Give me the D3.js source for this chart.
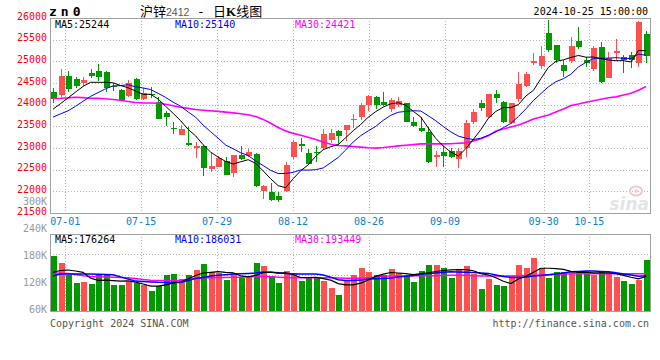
<!DOCTYPE html>
<html><head><meta charset="utf-8">
<script src="https://cdn.jsdelivr.net/npm/d3@7"></script>
<style>body{margin:0;background:#fff}svg{display:block}</style>
</head><body><svg id="c" width="660" height="360"></svg>
<script>
const dates = ["06-27","06-28",
"07-01","07-02","07-03","07-04","07-05","07-08","07-09","07-10","07-11","07-12","07-15","07-16","07-17","07-18","07-19","07-22","07-23","07-24","07-25","07-26","07-29","07-30","07-31",
"08-01","08-02","08-05","08-06","08-07","08-08","08-09","08-12","08-13","08-14","08-15","08-16","08-19","08-20","08-21","08-22","08-23","08-26","08-27","08-28","08-29","08-30",
"09-02","09-03","09-04","09-05","09-06","09-09","09-10","09-11","09-12","09-13","09-18","09-19","09-20","09-23","09-24","09-25","09-26","09-27","09-30",
"10-08","10-09","10-10","10-11","10-14","10-15","10-16","10-17","10-18","10-21","10-22","10-23","10-24","10-25"];

const open = [24299,24212,24669,24599,24500,24731,24784,24761,24442,24338,
24207,24599,24131,24253,24055,23815,23462,23307,23115,22993,
23046,22523,22569,22700,22430,22838,22822,22862,22008,21977,
21892,22008,22800,23092,22877,22915,22993,23185,23392,23415,
23639,23722,23992,24170,24069,23893,23985,24031,23600,23469,
23362,22800,22908,22938,22739,22993,23607,24031,23708,24246,
24069,23569,24131,24438,24969,24892,25647,25377,24915,25000,
25469,25031,24823,25338,24615,25200,25107,25146,24969,25631];
const high = [24392,24823,24784,24639,24639,24830,24932,24770,24500,24354,
24569,24615,24385,24408,24170,23861,23600,23523,23492,23146,
23062,22877,22815,22800,22845,23046,22977,22877,22140,22185,
21992,22685,23185,23223,22969,23046,23439,23431,23415,23540,
23778,24031,24223,24200,24300,24147,24170,24046,23723,23723,
23492,22931,23046,22993,22993,23646,23893,24108,24255,24338,
24085,24046,24761,24761,25185,25354,25954,25385,25031,25569,
25800,25108,25354,25454,25215,25515,25146,25223,25931,25700];
const low = [24027,24177,24281,24385,24431,24622,24546,24300,24315,24092,
24184,24108,24108,24154,23669,23515,23323,23300,23046,22762,
22354,22454,22554,22370,22323,22723,22792,22108,21830,21784,
21761,21992,22739,22915,22624,22685,22954,23122,23069,23169,
23455,23646,23861,23893,23969,23838,23939,23600,23492,23376,
22646,22569,22569,22780,22546,22800,23554,23861,23700,24031,
23569,23554,24069,24401,24915,24816,25222,24954,24646,24969,
25277,24877,24777,24493,24608,25031,24738,24839,24876,24954];
const close = [24124,24662,24362,24424,24569,24669,24638,24378,24419,24108,
24507,24138,24262,24230,23676,23708,23439,23431,23077,23046,
22546,22585,22777,22377,22838,22746,22908,22123,22131,21800,
21800,22600,23146,23054,22631,22877,23323,23353,23277,23531,
23676,23992,24200,23992,23992,24108,24078,23607,23508,23399,
22670,22838,22815,22785,22931,23570,23831,23916,24246,24161,
23607,24031,24469,24708,25001,25123,25262,25031,24784,25354,
25338,24954,25319,24531,25077,25239,25031,25031,25919,25123];

const ma5 = [23895,24024,24156,24290,24421,24516,24516,24516,24505,24442,
24390,24315,24239,24239,24130,23965,23800,23630,23430,23280,
23075,22905,22790,22690,22631,22681,22730,22645,22471,22290,
22130,22085,22291,22476,22610,22810,22960,23030,23080,23240,
23400,23545,23710,23840,23945,24020,24045,23985,23845,23715,
23460,23220,23044,22905,22815,22985,23200,23425,23685,23845,
23935,23930,24002,24200,24330,24600,24860,25000,25035,25090,
25135,25095,25100,25065,25030,25015,25015,24985,25250,25244];
const ma10 = [23713,23787,23858,23962,24078,24191,24278,24366,24433,24440,
24460,24412,24385,24350,24262,24168,24058,23966,23832,23712,
23530,23375,23228,23068,22983,22890,22828,22700,22595,22484,
22411,22412,22438,22494,22489,22500,22540,22660,22784,22955,
23140,23285,23395,23500,23640,23755,23825,23845,23860,23853,
23743,23628,23494,23372,23275,23226,23196,23224,23296,23372,
23470,23568,23727,23902,24096,24256,24411,24531,24600,24704,
24871,24976,25067,25070,25075,25085,25068,25066,25165,25140];
const ma30 = [24142,24147,24156,24170,24163,24149,24145,24135,24121,24101,
24075,24050,24041,24038,24034,24008,23974,23939,23914,23888,
23872,23858,23845,23828,23810,23789,23766,23725,23660,23570,
23475,23395,23337,23295,23247,23194,23138,23088,23058,23050,
23035,23020,23005,22998,23011,23030,23048,23062,23078,23095,
23095,23095,23095,23099,23108,23118,23161,23215,23280,23390,
23440,23485,23530,23595,23670,23715,23760,23830,23900,23980,
24015,24055,24090,24125,24158,24180,24225,24265,24335,24421];

// volume, in K (as read against the volume axis labels)
const volume = [182.9,167.3,140,122.9,125.1,120.7,140,140,117.8,117.8,
123.8,121.6,117.8,104.4,115.6,140,142.2,131.1,140,151.8,
164.4,146.7,144.4,128.9,143.8,132.7,138.4,166.7,160,137.8,
122.2,148.9,144.4,126.7,134.9,134.9,127.3,112.2,95.6,127.3,
140,156.2,146.7,140,140,154,145.1,140,124.4,148.9,
162.2,162.2,155.6,134,154,160,142.9,108.9,131.8,117.8,
115.6,138.4,162.2,155.6,177.8,155.6,134,146.7,146.7,146.7,
146.7,144.4,139.3,148.9,146.7,136.2,127.3,120.7,129.6,173.3];
const vma5 = [146.0,150.0,151.1,148.9,146.0,133.0,128.0,128.5,127.5,126.5,
127.0,124.0,120.0,115.5,115.5,118.0,122.0,125.0,131.0,139.0,
144.5,146.0,147.5,146.0,145.0,138.0,136.0,139.0,145.0,146.5,
144.0,145.0,140.5,134.5,134.0,135.0,132.0,128.5,121.0,118.0,
118.0,122.0,129.0,137.0,142.0,145.5,144.5,143.0,141.0,143.0,
145.0,147.8,150.0,151.5,152.0,152.0,149.5,143.0,140.0,134.0,
126.0,121.0,131.0,137.0,146.0,155.0,155.0,154.0,152.5,148.0,
146.0,146.2,144.9,145.0,144.5,143.0,139.0,135.0,131.5,137.0];
const vma10 = [137.6,142,142,142,142,142,141.6,141.1,140.7,135.8,
130.9,126.4,125.6,124.7,123.8,123.6,123.6,123.6,127.6,132,
134.7,137.6,139.3,140.7,142,142.7,143.3,144.2,146.4,146.2,
144.9,143.6,142,142,142,142,140.2,135.3,129.6,127.6,
127.6,129.1,130.9,131.6,132.2,133.1,135.3,137.1,139.1,141.3,
143.1,144.4,146,147.1,146.4,146,145.3,144.4,143.6,140.2,
136.9,134.7,134.7,135.8,137.6,139.1,140.4,142,144.4,147.1,
148,148.9,149.1,148,147.1,144.9,142,139.8,137.1,138.2];
const vma30 = [144.8,144.1,143.2,141,138.1,136.8,136.1,135.7,135.2,134.6,
133.9,132.1,129.9,128.3,127.7,127.7,127.7,127.7,131,133,
133.9,134.1,134.3,134.6,134.8,135.2,136.1,136.8,137.2,136.1,
135.2,134.3,133.7,133.7,133.7,133.7,133.7,133.7,133.2,132.8,
132.6,132.8,133.7,134.8,137.5,138,138,138,138.2,138.4,
138.4,138.6,138.8,139.2,139.4,139.2,138.6,137.9,137.6,137.6,
137.8,138,138.3,138.7,139.2,140,140.8,141.6,142.2,142.5,
142.6,142.6,142.6,142.6,142.6,142.6,142.6,142.6,142.8,143];

const priceTicks = [21500,22000,22500,23000,23500,24000,24500,25000,25500,26000];
const volTicks = [60,120,180,240,300];
const dateLabels = ["07-01","07-15","07-29","08-12","08-26","09-09","09-30","10-15"];
const headerMain = [{t:"MA5:25244",c:"#000"},{t:"MA10:25140",c:"#0000ff"},{t:"MA30:24421",c:"#ff00ff"}];
const headerVol = [{t:"MA5:176264",c:"#000"},{t:"MA10:186031",c:"#0000ff"},{t:"MA30:193449",c:"#ff00ff"}];

const svg = d3.select("#c");
const L = 50, R = 650, T = 18, B = 213, VT = 234, VB = 311;
const MONO = "'DejaVu Sans Mono', 'Liberation Mono', monospace";
const RED = "#ff5050", GREEN = "#009900", GRID = "#b4b4b4", FRAME = "#a0a0a0";

const xC = d3.scalePoint().domain(dates).range([53, 646]);
const xG = d3.scalePoint().domain(dates).range([50, 650]);
const y = d3.scaleLinear().domain([21500, 26000]).range([B, T]);
const yv = d3.scaleLinear().domain([60, 240]).range([VB, 230]);

// grids
const grid = svg.append("g").attr("stroke", GRID).attr("stroke-dasharray", "1,2").attr("shape-rendering","crispEdges");
grid.selectAll("line.h").data(priceTicks.filter(v => v > 21500 && v < 26000)).join("line")
  .attr("x1", L).attr("x2", R).attr("y1", d => Math.round(y(d)) + 0.5).attr("y2", d => Math.round(y(d)) + 0.5);
grid.selectAll("line.v").data(dateLabels).join("line")
  .attr("x1", d => Math.round(xG(d)) + 0.5).attr("x2", d => Math.round(xG(d)) + 0.5).attr("y1", T).attr("y2", B);
const vh = (VB + 4.5 - VT) / 4;
grid.selectAll("line.vh").data([1, 2, 3]).join("line")
  .attr("x1", L).attr("x2", R).attr("y1", k => Math.round(VT + k * vh) + 0.5).attr("y2", k => Math.round(VT + k * vh) + 0.5);
grid.selectAll("line.vv").data(dateLabels).join("line")
  .attr("x1", d => Math.round(xG(d)) + 0.5).attr("x2", d => Math.round(xG(d)) + 0.5).attr("y1", VT).attr("y2", VB);

// sina watermark
const wm = svg.append("g");
wm.append("ellipse").attr("cx", 636).attr("cy", 191).attr("rx", 6).attr("ry", 4.5).attr("fill", "none").attr("stroke", "#f2c8c8").attr("stroke-width", 2);
wm.append("circle").attr("cx", 636).attr("cy", 191).attr("r", 1.8).attr("fill", "#f2c8c8");
wm.append("text").attr("x", 649).attr("y", 210).attr("text-anchor", "end")
  .attr("font-family", "'DejaVu Sans', sans-serif").attr("font-style", "italic").attr("font-weight", "bold")
  .attr("font-size", 17).attr("fill", "#e4e4e4").text("sina");

// frames
svg.append("rect").attr("x", L + 0.5).attr("y", T + 0.5).attr("width", R - L).attr("height", B - T)
  .attr("fill", "none").attr("stroke", FRAME).attr("shape-rendering","crispEdges");
svg.append("rect").attr("x", L + 0.5).attr("y", VT + 0.5).attr("width", R - L).attr("height", VB - VT)
  .attr("fill", "none").attr("stroke", FRAME).attr("shape-rendering","crispEdges");

const idx = d3.range(dates.length);
const col = i => close[i] > open[i] ? RED : GREEN;

// candles
const cg = svg.append("g").attr("shape-rendering", "crispEdges");
cg.selectAll("line").data(idx).join("line")
  .attr("x1", i => Math.round(xC(dates[i])) + 0.5).attr("x2", i => Math.round(xC(dates[i])) + 0.5)
  .attr("y1", i => y(high[i])).attr("y2", i => y(low[i])).attr("stroke", col);
cg.selectAll("rect").data(idx).join("rect")
  .attr("x", i => Math.round(xC(dates[i])) - 2.5).attr("width", 6)
  .attr("y", i => Math.min(y(open[i]), y(close[i])))
  .attr("height", i => Math.max(1, Math.abs(y(open[i]) - y(close[i]))))
  .attr("fill", col);

// volume bars
svg.append("g").attr("shape-rendering", "crispEdges").selectAll("rect").data(idx).join("rect")
  .attr("x", i => Math.round(xC(dates[i])) - 2.5).attr("width", 6)
  .attr("y", i => yv(volume[i])).attr("height", i => VB - yv(volume[i])).attr("fill", col);

// MA lines
function maLine(arr, sc, color, w) {
  svg.append("path").datum(idx)
    .attr("d", d3.line().x(i => xC(dates[i])).y(i => sc(arr[i])))
    .attr("fill", "none").attr("stroke", color).attr("stroke-width", w);
}
maLine(ma30, y, "#ff00ff", 1.6);
maLine(ma10, y, "#0000ff", 1);
maLine(ma5, y, "#000000", 1);
maLine(vma30, yv, "#ff00ff", 1.5);
maLine(vma10, yv, "#0000ff", 1.5);
maLine(vma5, yv, "#000000", 1.2);

// axis labels
const txt = svg.append("g").attr("font-family", MONO).attr("font-size", 10);
txt.selectAll("text.p").data(priceTicks).join("text")
  .attr("x", 47).attr("y", d => y(d) - 2).attr("dominant-baseline", "central")
  .attr("text-anchor", "end").attr("fill", "#ff0000").text(d => d);
txt.selectAll("text.v").data(volTicks).join("text")
  .attr("x", 47).attr("y", d => yv(d) - 1.5).attr("dominant-baseline", "central")
  .attr("text-anchor", "end").attr("fill", "#999").text(d => d + "K");
txt.selectAll("text.d").data(dateLabels).join("text")
  .attr("x", d => xG(d)).attr("y", 225).attr("text-anchor", "middle")
  .attr("fill", "#0a7fcf").text(d => d);

// headers
txt.selectAll("text.hm").data(headerMain).join("text")
  .attr("x", (d, i) => 55 + i * 120).attr("y", 27.5).attr("fill", d => d.c).text(d => d.t);
txt.selectAll("text.hv").data(headerVol).join("text")
  .attr("x", (d, i) => 55 + i * 120).attr("y", 242.5).attr("fill", d => d.c).text(d => d.t);
txt.append("text").attr("x", 648).attr("y", 15).attr("text-anchor", "end").attr("fill", "#000").text("2024-10-25 15:00:00");
txt.append("text").attr("x", 50).attr("y", 327).attr("fill", "#555").text("Copyright 2024 SINA.COM");
txt.append("text").attr("x", 649).attr("y", 327).attr("text-anchor", "end").attr("fill", "#555").text("http://finance.sina.com.cn");

// title
svg.append("text").attr("x", 49).attr("y", 16).attr("font-family", MONO).attr("font-weight", "bold")
  .attr("font-size", 13).attr("letter-spacing", 4).attr("fill", "#000").text("zn0");
const tt = svg.append("text").attr("y", 16).attr("font-family", "'Noto Sans CJK SC', sans-serif")
  .attr("font-size", 13).attr("fill", "#000");
tt.append("tspan").attr("x", 140).text("沪锌");
tt.append("tspan").attr("fill", "#555").attr("font-family", "'Liberation Sans', sans-serif").attr("font-size", 10.5).text("2412");
tt.append("tspan").attr("x", 197).attr("font-family", MONO).text("-");
tt.append("tspan").attr("x", 213).text("日");
tt.append("tspan").attr("font-weight", "bold").attr("font-family", "'Liberation Serif', serif").text("K");
tt.append("tspan").text("线图");
</script></body></html>
